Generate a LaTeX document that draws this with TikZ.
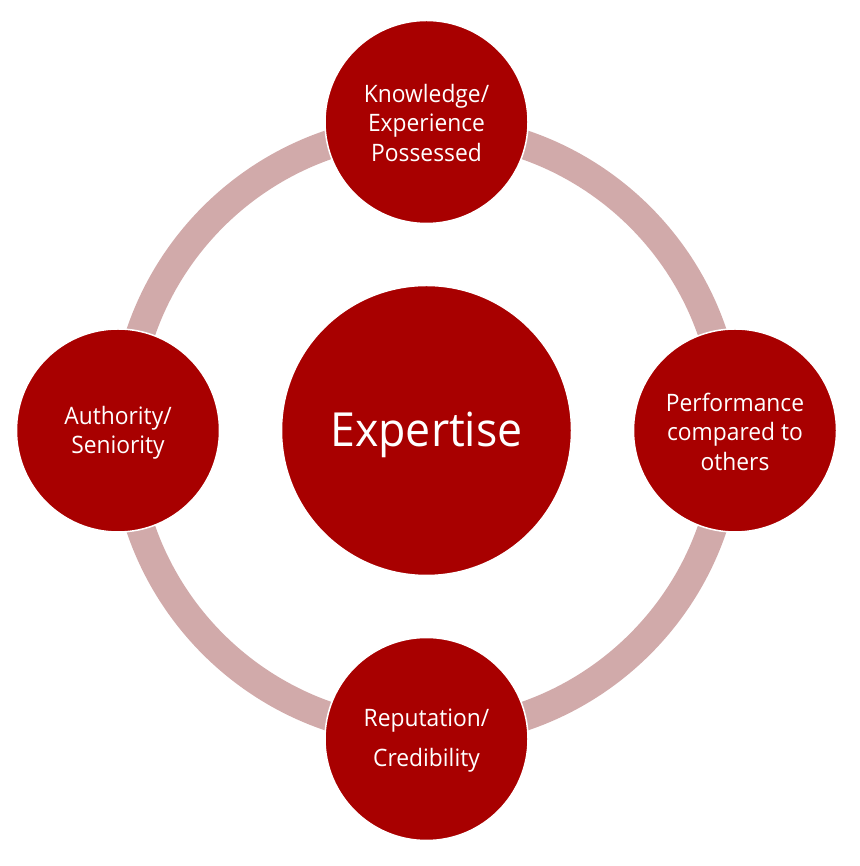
\documentclass[tikz,border=0pt]{standalone}
\usepackage{fontspec}
\setmainfont{Open Sans}[FakeStretch=0.95]
\definecolor{dred}{RGB}{168,0,0}
\definecolor{ringc}{RGB}{209,170,170}
\tikzset{
  sat/.style={circle, fill=dred, draw=white, line width=1.5pt, minimum size=203pt, inner sep=0pt},
  hub/.style={circle, fill=dred, draw=white, line width=1.5pt, minimum size=290pt, inner sep=0pt},
  lbl/.style={text=white, align=center, font=\fontsize{24}{29.5}\selectfont, inner sep=0pt},
  ringline/.style={draw=ringc, line width=29pt},
}
\begin{document}
\begin{tikzpicture}[x=1pt,y=1pt]
\useasboundingbox (0,0) rectangle (859,866);
\coordinate (C) at (426.5,435.5);
\draw[ringline] (C) circle (302);
\node[hub] (hub) at (C) {};
\node[sat] (top) at (426.5,744) {};
\node[sat] (right) at (735,435.5) {};
\node[sat] (bottom) at (426.5,127) {};
\node[sat] (left) at (118,435.5) {};
\node[text=white, font=\fontsize{47}{56}\selectfont, inner sep=0pt, anchor=base] (thub) at (426.5,419.5) {Expertise};
\node[lbl, yshift=-1pt] (ttop) at (top) {Knowledge/\\Experience\\Possessed};
\node[lbl, yshift=-1pt] (tright) at (right) {Performance\\compared to\\others};
\node[lbl, yshift=-2pt] (tbottom) at (bottom) {Reputation/\\[10.5pt]Credibility};
\node[lbl, yshift=-2.5pt] (tleft) at (left) {Authority/\\Seniority};
\end{tikzpicture}
\end{document}
